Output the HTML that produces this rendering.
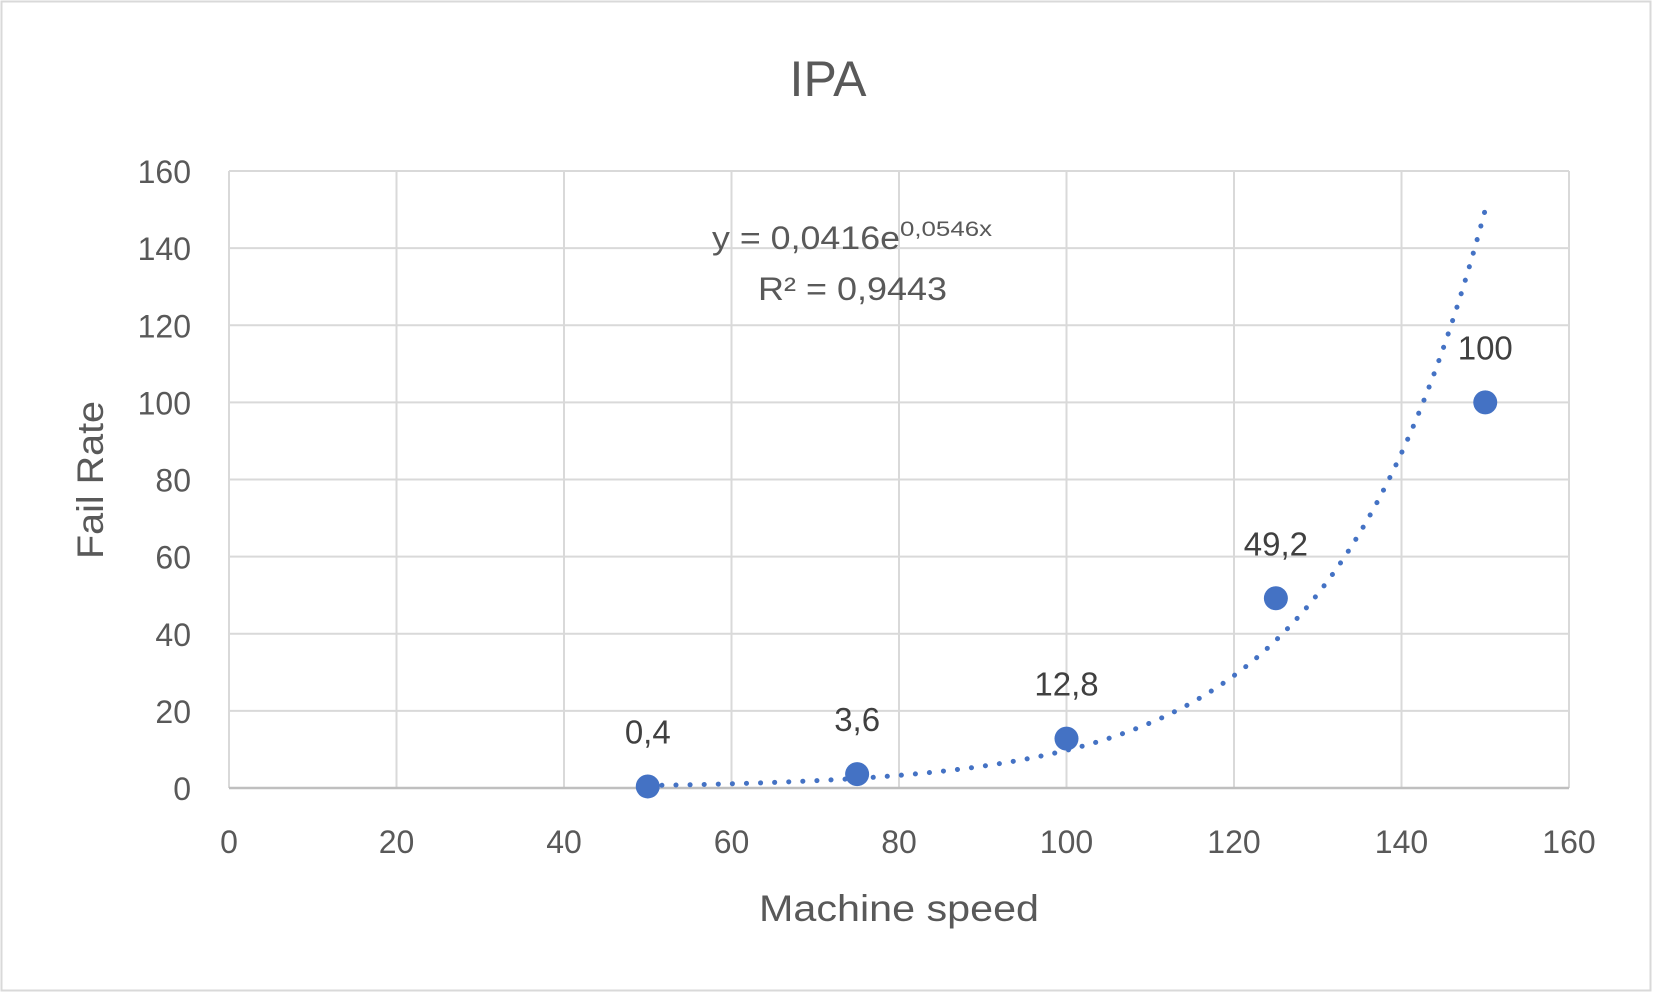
<!DOCTYPE html>
<html><head><meta charset="utf-8"><style>
html,body{margin:0;padding:0;background:#fff;}
svg{display:block;font-family:"Liberation Sans",sans-serif;}
</style></head><body>
<svg id="chart" width="1653" height="993" viewBox="0 0 1653 993">
<rect x="1.5" y="1.5" width="1649" height="989" fill="#fff" stroke="#d9d9d9" stroke-width="2"/>
<text x="828" y="96" font-size="50" fill="#595959" text-anchor="middle">IPA</text>
<g id="grid"></g>
<g id="ticks"></g>
<text x="899" y="921" font-size="37" fill="#595959" text-anchor="middle" textLength="280" lengthAdjust="spacingAndGlyphs">Machine speed</text>
<text transform="translate(103,480) rotate(-90)" font-size="37" fill="#595959" text-anchor="middle" textLength="158" lengthAdjust="spacingAndGlyphs">Fail Rate</text>
<path id="trend" fill="none" stroke="#4472c4" stroke-width="5" stroke-linecap="round" stroke-dasharray="0.1 14"/>
<g id="points"></g>
<text x="712" y="249" font-size="32" fill="#595959" textLength="188" lengthAdjust="spacingAndGlyphs">y = 0,0416e</text>
<text x="900" y="236" font-size="21" fill="#595959" textLength="92" lengthAdjust="spacingAndGlyphs">0,0546x</text>
<text x="758" y="300" font-size="32" fill="#595959" textLength="189" lengthAdjust="spacingAndGlyphs">R² = 0,9443</text>
</svg>
<script>
const xVals=[50,75,100,125,150];
const yVals=[0.4,3.6,12.8,49.2,100];
const pointLabels=["0,4","3,6","12,8","49,2","100"];
const xTicks=[0,20,40,60,80,100,120,140,160];
const yTicks=[0,20,40,60,80,100,120,140,160];
const trendA=0.0416, trendB=0.0546;
const L=229,R=1569,T=171,B=788;
const sx=v=>L+(v/160)*(R-L);
const sy=v=>B-(v/160)*(B-T);
const NS="http://www.w3.org/2000/svg";
const g=document.getElementById('grid'),tk=document.getElementById('ticks'),pts=document.getElementById('points');
function mk(tag,attrs,parent){const e=document.createElementNS(NS,tag);for(const k in attrs)e.setAttribute(k,attrs[k]);parent.appendChild(e);return e;}
xTicks.forEach(v=>{
  const l=mk('line',{x1:sx(v),x2:sx(v),y1:T,y2:B,stroke:'#d9d9d9','stroke-width':2},g);
  
  
  const t=mk('text',{x:sx(v),y:853,'font-size':32,fill:'#595959','text-anchor':'middle'},tk);
  t.textContent=v;
  
  
});
yTicks.forEach(v=>{
  const l=mk('line',{x1:L,x2:R,y1:sy(v),y2:sy(v),stroke:v===0?'#bfbfbf':'#d9d9d9','stroke-width':v===0?2.5:2},g);
  
  
  const t=mk('text',{x:191,y:sy(v)+12,'font-size':32,fill:'#595959','text-anchor':'end'},tk);
  t.textContent=v;
  
  
});
let d='';
const x0=xVals[0],x1=xVals[xVals.length-1];
for(let i=0;i<=200;i++){const x=x0+(x1-x0)*i/200;const y=trendA*Math.exp(trendB*x);d+=(i?'L':'M')+sx(x).toFixed(2)+' '+sy(y).toFixed(2);}
document.getElementById('trend').setAttribute('d',d);
xVals.forEach((x,i)=>{
  const c=mk('circle',{cx:sx(x),cy:sy(yVals[i]),r:12,fill:'#4472c4'},pts);
  
  
  const t=mk('text',{x:sx(x),y:sy(yVals[i])-43,'font-size':33,fill:'#404040','text-anchor':'middle'},pts);
  t.textContent=pointLabels[i];
  
  
});
</script>
</body></html>
